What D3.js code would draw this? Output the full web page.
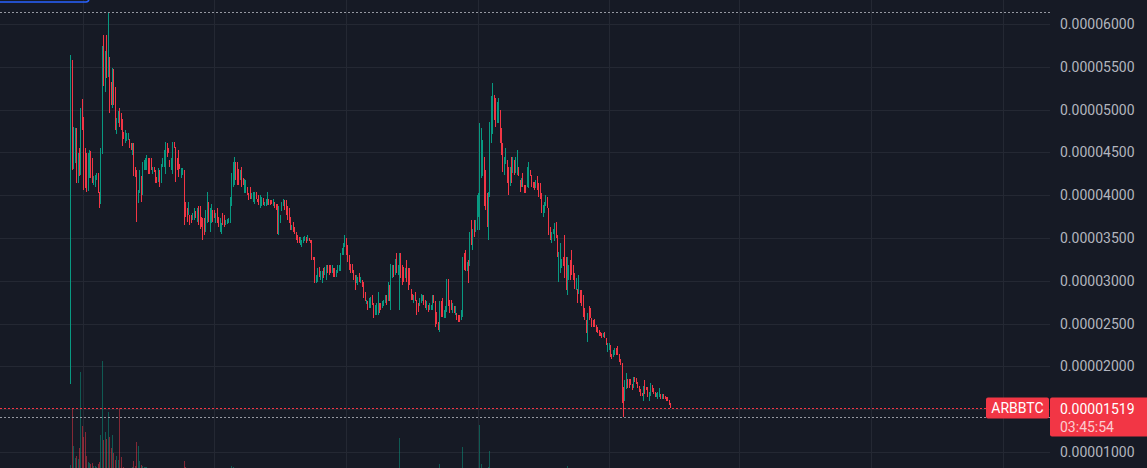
<!DOCTYPE html>
<html>
<head>
<meta charset="utf-8">
<script src="https://cdn.jsdelivr.net/npm/d3@7"></script>
<style>
  html, body { margin: 0; padding: 0; background: #161a25; }
  svg { display: block; }
  text { font-family: Roboto, "Noto Sans", sans-serif; }
</style>
</head>
<body>
<svg id="chart" width="1147" height="468"></svg>
<script>
const symbol = "ARBBTC"
const lastPrice = 0.00001519
const countdown = "03:45:54"
const firstDay = "2023-03-23"
const PRICE_UNIT = 1e-7 // ohlc rows are in units of 0.0000001 BTC

const priceTicks = [0.00001, 0.000015, 0.00002, 0.000025, 0.00003, 0.000035, 0.00004, 0.000045, 0.00005, 0.000055, 0.00006]

// daily candles: [open, high, low, close]
const ohlc = [
  [200,564,180,555],[555,558,430,437],[437,480,431,472],[440,479,438,476],[476,478,414,418],
  [418,449,414,448],[448,455,423,425],[425,502,424,495],[495,512,476,478],[478,491,406,412],
  [452,455,408,440],[440,449,404,406],[406,449,405,445],[432,453,420,451],[451,452,420,428],
  [428,444,414,416],[414,422,412,421],[419,424,410,423],[420,426,418,425],[425,426,402,405],
  [404,404,385,390],[392,455,390,450],[450,574,448,570],[570,587,528,532],[532,568,520,565],
  [565,587,537,540],[540,614,538,562],[562,562,496,500],[530,532,505,508],[508,549,502,545],
  [545,548,505,508],[508,526,476,480],[474,490,471,488],[486,498,484,494],[500,502,480,482],
  [490,496,476,478],[478,489,457,460],[474,474,466,467],[462,476,461,474],[466,473,463,471],
  [466,473,465,472],[466,466,455,457],[461,461,453,455],[448,461,447,459],[459,461,423,428],
  [433,433,421,424],[429,429,369,392],[392,406,391,404],[404,429,402,426],[423,423,392,400],
  [400,439,400,436],[430,441,429,438],[432,444,429,442],[433,447,429,445],[444,444,425,430],
  [442,443,425,432],[443,443,429,432],[427,433,425,432],[433,433,427,428],[429,429,414,416],
  [421,421,414,415],[416,432,416,430],[429,429,410,414],[415,436,414,434],[434,443,433,441],
  [436,453,433,450],[440,462,425,458],[458,461,445,447],[455,455,449,450],[441,441,433,435],
  [432,444,429,442],[440,462,425,460],[462,462,455,456],[456,456,415,425],[440,444,429,432],
  [450,453,421,425],[433,437,431,432],[420,432,420,430],[425,432,424,430],[427,429,365,392],
  // Jun - Sep 2023
  [392,392,375,378],[385,385,369,372],[378,392,377,390],[377,377,365,367],[376,377,367,369],
  [371,379,371,378],[372,385,371,383],[381,381,373,375],[371,385,369,383],[385,387,365,372],
  [386,387,361,368],[375,375,363,366],[372,373,348,360],[370,373,353,356],[360,383,357,380],
  [378,404,367,400],[392,392,369,372],[362,385,357,383],[372,390,367,388],[383,383,369,372],
  [382,383,373,375],[369,379,367,377],[385,385,367,370],[375,375,363,365],[362,373,357,372],
  [358,367,355,365],[378,379,365,367],[375,377,363,366],[366,371,365,370],[367,372,366,371],
  [368,373,367,372],[370,398,367,396],[392,426,387,423],[418,439,410,436],[430,445,412,440],
  [438,439,418,422],[436,439,412,416],[430,431,412,414],[418,429,418,427],[431,433,410,413],
  [419,420,412,414],[404,419,402,416],[406,418,402,415],[410,410,400,402],[401,402,394,396],
  [409,410,396,398],[397,402,396,401],[394,404,392,402],[393,404,390,402],[403,404,396,398],
  [396,396,392,393],[398,400,389,391],[387,400,385,398],[389,398,387,396],[396,397,389,391],
  [388,392,387,391],[389,396,387,395],[391,404,389,402],[396,396,389,391],[393,394,389,390],
  [394,394,390,391],[388,396,387,394],[392,392,385,386],[390,390,383,384],[388,390,355,360],
  [358,387,353,384],[368,377,367,375],[381,392,381,390],[388,396,387,395],[394,394,383,385],
  [392,394,377,379],[385,387,371,374],[378,385,367,369],[372,375,359,361],[360,365,359,364],
  [366,369,357,359],[362,363,355,357],[357,357,348,350],[352,353,344,346],[350,351,344,345],
  [343,351,342,349],[341,348,340,346],[345,351,344,350],[347,352,346,351],[350,351,344,345],
  [346,353,346,351],[349,350,346,347],[347,348,344,345],[346,348,324,328],[328,328,324,325],
  [326,328,297,300],[298,307,297,305],[301,315,299,312],[315,316,305,307],[302,311,301,309],
  [299,311,297,308],[313,315,303,305],[307,316,307,314],[303,318,301,316],[317,318,309,311],
  [316,318,307,309],[316,318,309,310],[310,318,309,316],[314,315,305,307],[313,315,305,306],
  [306,313,305,311],[310,318,309,316],[312,318,311,317],[313,332,311,329],[330,338,330,336],
  [332,344,330,342],[341,353,340,351],
  // Oct - Dec 2023
  [348,350,330,334],[340,342,322,326],[328,330,313,316],[319,320,309,311],[318,320,309,312],
  [312,313,301,303],[305,307,289,292],[298,307,297,305],[297,305,295,303],[308,309,299,301],
  [298,305,297,304],[300,301,293,295],[297,299,280,283],[286,287,276,278],[274,278,273,277],
  [275,276,266,268],[269,280,268,278],[270,281,268,279],[282,283,272,274],[273,274,256,259],
  [261,272,260,270],[263,274,260,272],[264,287,260,284],[273,274,262,264],[272,274,266,267],
  [268,276,268,275],[271,278,270,277],[275,283,274,282],[282,283,272,274],[278,299,276,296],
  [293,295,276,279],[274,320,266,314],[305,318,303,316],[317,318,305,307],[309,326,307,323],
  [329,332,309,312],[308,318,307,316],[310,332,266,328],[329,332,303,307],[316,318,295,299],
  [314,316,299,302],[304,315,303,313],[321,324,299,303],[312,315,289,293],[305,315,295,297],
  [290,291,278,280],[284,285,278,279],[275,283,274,282],[286,287,276,278],[277,278,260,263],
  [272,274,264,266],[271,280,270,278],[276,285,274,283],[277,283,276,282],[282,283,272,274],
  [277,278,268,270],[267,276,266,274],[271,272,264,266],[267,274,266,272],[267,272,266,271],
  [268,283,266,281],[282,283,274,276],[274,276,246,252],[262,264,250,252],[251,252,242,244],
  [245,276,240,272],[274,276,258,261],[272,280,258,262],[258,266,256,265],[259,270,256,268],
  [268,302,264,298],[298,302,270,274],[276,278,262,265],[275,278,266,268],[264,274,262,272],
  [269,270,262,264],[262,270,260,268],[261,262,254,256],[258,260,252,254],[257,260,252,253],
  [255,266,254,264],[264,328,258,322],[330,332,313,316],[333,336,311,315],[313,322,311,320],
  [321,324,297,301],[320,357,317,352],[368,371,342,346],[340,361,336,358],[369,371,351,354],
  [358,371,357,369],
  // Jan - Mar 2024
  [362,400,359,396],[378,402,375,399],[398,484,359,478],[425,478,420,470],[428,464,422,460],
  [440,445,387,395],[425,429,383,390],[398,402,363,370],[372,404,348,400],[402,486,398,480],
  [468,516,461,510],[480,531,472,518],[516,517,488,492],[510,513,480,484],[486,509,484,506],
  [488,513,484,510],[498,500,461,465],[475,478,447,450],[458,461,427,432],[427,445,424,442],
  [440,455,437,452],[439,441,414,418],[430,433,400,405],[413,433,411,430],[442,445,414,418],
  [428,445,426,442],[440,441,424,427],[428,445,426,443],[428,453,424,448],[432,433,422,424],
  [417,418,404,406],[411,420,410,418],[424,426,410,412],[411,412,402,404],[410,412,402,403],
  [412,433,410,430],[412,439,408,434],[428,429,422,423],[422,424,410,412],[415,416,408,409],
  [414,416,406,408],[409,418,408,416],[420,422,406,408],[412,414,398,401],[411,414,396,399],
  [400,402,379,383],[377,389,375,387],[381,392,379,390],[388,400,387,398],[397,398,385,387],
  [383,385,354,358],[362,363,348,350],[346,357,344,355],[356,361,355,360],[350,367,346,364],
  [367,369,350,353],[352,354,328,332],[304,334,299,330],[314,344,309,340],[316,326,315,324],
  [327,328,317,319],[350,354,303,308],[325,328,289,294],[290,328,283,322],[303,318,301,315],
  [322,324,301,304],[333,336,307,311],[316,318,301,303],[307,309,291,294],[291,303,289,300],
  [290,291,274,277],[287,307,285,303],[288,289,274,276],[286,289,270,273],[281,283,258,262],
  [267,268,254,256],
  // Mar - May 2024
  [253,254,239,241],[236,262,229,258],[268,270,254,256],[266,268,256,258],[255,256,246,248],
  [253,254,246,247],[254,255,246,248],[247,248,240,241],[245,246,239,240],[241,242,235,236],
  [239,240,235,236],[238,239,233,234],[235,239,234,238],[239,240,233,234],[232,233,225,226],
  [218,227,217,225],[220,227,219,226],[224,225,211,213],[214,215,209,210],[212,219,211,218],
  [214,221,213,220],[220,221,213,214],[222,224,213,215],[214,215,205,206],[208,209,202,203],
  [203,204,157,165],[175,176,141,160],[162,184,159,181],[176,192,174,189],[184,185,175,177],
  [184,185,175,176],[184,185,178,179],[179,180,173,174],[176,188,175,186],[187,188,182,183],
  [185,186,179,180],[181,182,175,176],[176,177,170,171],[173,174,166,167],[168,169,165,166],
  [166,177,160,175],[183,184,168,170],[175,176,172,173],[175,176,164,166],[162,170,160,168],
  [168,181,166,179],[177,178,170,171],[174,175,168,169],[169,170,164,165],[165,169,164,168],
  [164,170,162,169],[166,175,164,174],[167,168,162,163],[163,168,162,167],[167,168,162,163],
  [165,166,162,163],[163,164,160,161],[163,164,159,160],[160,161,155,156],[156,157,151,151.9]
]

// daily volume (millions ARB)
const volume = [
  0.6,6.2,2.5,1.3,1.5,1.2,2.3,9.8,4.5,3.4, 3.9,1.5,0.9,0.8,0.7,0.8,0.5,0.5,0.4,0.7,
  0.9,3.6,10.9,3.1,3.9,3.2,5.8,3.4,2.3,3.6, 1.8,1.1,1.5,1.1,6.2,1.4,0.3,0.4,0.3,0.3,
  0.3,0.3,0.3,0.4,1.0,0.5,2.9,2.5,1.0,0.6, 0.5,0.4,0.4,0.4,0.3,0.3,0.25,0.2,0.2,0.3,
  0.25,0.2,0.25,0.2,0.2,0.25,0.3,0.2,0.2,0.2, 0.2,0.3,0.2,0.25,0.2,0.2,0.2,0.2,0.2,1.0,
  0.35,0.3,0.2,0.2,0.2,0.2,0.2,0.2,0.2,0.2, 0.2,0.2,0.25,0.2,0.2,0.25,0.2,0.2,0.2,0.2,
  0.15,0.15,0.15,0.15,0.2,0.15,0.15,0.15,0.15,0.15, 0.15,0.2,0.45,0.4,0.2,0.2,0.15,0.15,0.15,0.15,
  0.15,0.15,0.2,0.15,0.15,0.15,0.2,0.15,0.15,0.15, 0.15,0.15,0.15,0.2,0.15,0.15,0.15,0.15,0.15,0.15,
  0.15,0.15,0.2,0.15,0.15,0.15,0.15,0.15,0.2,0.15, 0.25,0.2,0.15,0.15,0.15,0.15,0.15,0.2,0.15,0.15,
  0.15,0.15,0.15,0.15,0.15,0.15,0.15,0.15,0.15,0.15, 0.2,0.15,0.15,0.15,0.15,0.15,0.15,0.2,0.15,0.15,
  0.15,0.15,0.15,0.15,0.15,0.15,0.15,0.15,0.15,0.15, 0.15,0.2,0.15,0.15,0.15,0.15,0.15,0.15,0.15,0.15,
  0.15,0.15,0.15,0.15,0.2,0.15,0.15,0.15,0.15,0.15, 0.15,0.15,0.15,0.15,0.15,0.15,0.15,0.15,0.15,0.15,
  0.15,0.15,0.15,0.15,0.2,0.15,0.15,0.15,0.2,3.3, 0.3,0.15,0.15,0.2,0.15,0.15,0.15,0.15,0.15,0.15,
  0.15,0.15,0.15,0.15,0.15,0.15,0.15,0.15,0.15,0.15, 0.15,0.15,0.15,0.2,0.15,0.15,0.15,0.7,0.2,0.15,
  0.15,0.15,0.15,0.15,0.15,0.15,0.15,0.2,0.15,0.15, 0.15,0.15,0.2,2.4,0.25,0.15,0.15,0.15,0.2,0.15,
  0.2,0.25,0.2,0.2,0.25,4.6,0.7,0.25,0.2,0.2, 0.25,0.4,2.0,0.25,0.2,0.2,0.2,0.15,0.15,0.15,
  0.15,0.15,0.15,0.15,0.15,0.15,0.15,0.15,0.15,0.15, 0.15,0.15,0.15,0.15,0.15,0.15,0.15,0.15,0.15,0.15,
  0.15,0.15,0.15,0.15,0.15,0.15,0.15,0.15,0.15,0.15, 0.15,0.15,0.15,0.15,0.15,0.15,0.15,0.15,0.15,0.15,
  0.15,0.15,0.15,0.15,0.15,0.15,0.45,0.15,0.15,0.15, 0.15,0.15,0.15,0.15,0.15,0.15,0.15,0.15,0.15,0.15,
  0.15,0.15,0.15,0.15,0.15,0.15,0.15,0.15,0.15,0.15, 0.15,0.15,0.15,0.15,0.15,0.15,0.15,0.15,0.15,0.15,
  0.15,0.15,0.15,0.15,0.25,0.2,0.15,0.15,0.15,0.15, 0.15,0.15,0.15,0.15,0.15,0.15,0.15,0.15,0.15,0.15,
  0.15,0.15,0.15,0.15,0.15,0.15,0.15,0.15,0.15,0.15, 0.15,0.15,0.15,0.15,0.15,0.15,0.15,0.15,0.15
]

const upColor = "#089981"
const downColor = "#f23645"
const gridColor = "#242833"
const axisText = "#b2b5be"

const width = 1147
const height = 468
const plotRight = 1050

const svg = d3.select("#chart")
  .attr("shape-rendering", "crispEdges")

const start = d3.utcParse("%Y-%m-%d")(firstDay)
const candles = ohlc.map((d, i) => ({
  date: d3.utcDay.offset(start, i),
  open: d[0] * PRICE_UNIT,
  high: d[1] * PRICE_UNIT,
  low: d[2] * PRICE_UNIT,
  close: d[3] * PRICE_UNIT,
  volume: volume[i] || 0
}))

const x = d3.scaleUtc()
  .domain([Date.UTC(2023, 1, 2), Date.UTC(2025, 1, 2, 12)])
  .range([0, plotRight])

const y = d3.scaleLinear()
  .domain([0.00001, 0.00006])
  .range([452, 24])

const yVol = d3.scaleLinear()
  .domain([0, d3.max(candles, d => d.volume)])
  .range([471, 361])

// grid
svg.append("g")
  .selectAll("line")
  .data(priceTicks)
  .join("line")
  .attr("x1", 0)
  .attr("x2", plotRight)
  .attr("y1", d => Math.round(y(d)) + 0.5)
  .attr("y2", d => Math.round(y(d)) + 0.5)
  .attr("stroke", gridColor)

svg.append("g")
  .selectAll("line")
  .data(x.ticks(d3.utcMonth.every(3)))
  .join("line")
  .attr("x1", d => Math.round(x(d)) + 0.5)
  .attr("x2", d => Math.round(x(d)) + 0.5)
  .attr("y1", 0)
  .attr("y2", height)
  .attr("stroke", gridColor)

// top-left toolbar edge
svg.append("rect")
  .attr("x", -6)
  .attr("y", -24)
  .attr("width", 95)
  .attr("height", 26)
  .attr("rx", 3)
  .attr("fill", "none")
  .attr("stroke", "#2962ff")
  .attr("stroke-width", 1.5)
  .attr("shape-rendering", "auto")

// volume
svg.append("g")
  .selectAll("rect")
  .data(candles)
  .join("rect")
  .attr("x", d => Math.round(x(d.date)))
  .attr("width", 1)
  .attr("y", d => yVol(d.volume))
  .attr("height", d => yVol(0) - yVol(d.volume))
  .attr("fill", d => d.close >= d.open ? upColor : downColor)
  .attr("fill-opacity", 0.5)

// candles
const candleG = svg.append("g")
  .selectAll("g")
  .data(candles)
  .join("g")
  .attr("fill", d => d.close >= d.open ? upColor : downColor)

candleG.append("rect")
  .attr("x", d => Math.round(x(d.date)))
  .attr("width", 1)
  .attr("y", d => y(d.high))
  .attr("height", d => Math.max(1, y(d.low) - y(d.high)))

candleG.append("rect")
  .attr("x", d => Math.round(x(d.date)))
  .attr("width", 1)
  .attr("y", d => y(Math.max(d.open, d.close)))
  .attr("height", d => Math.max(1, Math.abs(y(d.open) - y(d.close))))

// high / low / last price lines
const hi = d3.max(candles, d => d.high)
const lo = d3.min(candles, d => d.low)

svg.append("g")
  .selectAll("line")
  .data([hi, lo])
  .join("line")
  .attr("x1", 0)
  .attr("x2", plotRight)
  .attr("y1", d => Math.round(y(d)) + 0.5)
  .attr("y2", d => Math.round(y(d)) + 0.5)
  .attr("stroke", "#9598a1")
  .attr("stroke-dasharray", "2 2")

const lastY = y(lastPrice)
svg.append("line")
  .attr("x1", 0)
  .attr("x2", 986)
  .attr("y1", Math.round(lastY) + 0.5)
  .attr("y2", Math.round(lastY) + 0.5)
  .attr("stroke", downColor)
  .attr("stroke-dasharray", "2 2")

// price axis labels
svg.append("g")
  .selectAll("text")
  .data(priceTicks.filter(t => Math.abs(y(t) - lastY) > 14))
  .join("text")
  .attr("x", 1060)
  .attr("y", d => y(d))
  .attr("dy", "0.36em")
  .attr("fill", axisText)
  .attr("font-size", 14)
  .text(d => d.toFixed(8))

// symbol + last price tags
const tagTop = Math.round(lastY) - 10.5
svg.append("rect")
  .attr("x", 986)
  .attr("y", tagTop)
  .attr("width", 63)
  .attr("height", 21)
  .attr("rx", 2)
  .attr("fill", downColor)
  .attr("shape-rendering", "auto")

svg.append("text")
  .attr("x", 1017.5)
  .attr("y", lastY)
  .attr("dy", "0.36em")
  .attr("text-anchor", "middle")
  .attr("fill", "#ffffff")
  .attr("font-size", 14)
  .text(symbol)

svg.append("rect")
  .attr("x", 1050)
  .attr("y", tagTop)
  .attr("width", 104)
  .attr("height", 39)
  .attr("rx", 2)
  .attr("fill", downColor)
  .attr("shape-rendering", "auto")

svg.append("text")
  .attr("x", 1060)
  .attr("y", lastY + 1)
  .attr("dy", "0.36em")
  .attr("fill", "#ffffff")
  .attr("font-size", 14)
  .text(lastPrice.toFixed(8))

svg.append("text")
  .attr("x", 1060)
  .attr("y", lastY + 19)
  .attr("dy", "0.36em")
  .attr("fill", "#ffffff")
  .attr("fill-opacity", 0.75)
  .attr("font-size", 14)
  .text(countdown)
</script>
</body>
</html>
